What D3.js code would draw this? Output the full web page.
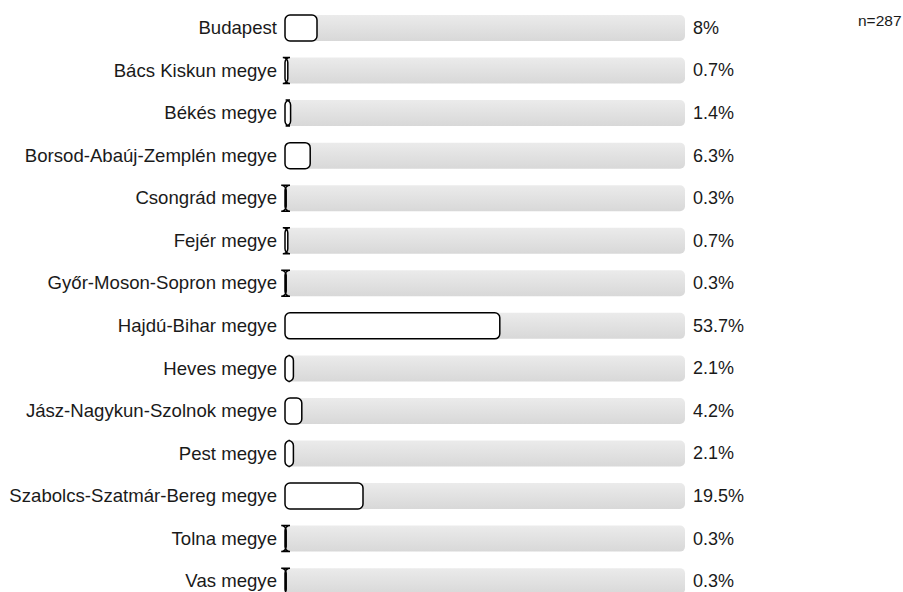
<!DOCTYPE html>
<html><head><meta charset="utf-8">
<script src="https://cdn.jsdelivr.net/npm/d3@7"></script>
<style>body{margin:0;background:#fff}svg{display:block}text{font-family:"Liberation Sans",Arial,sans-serif}</style>
</head><body>
<svg id="c" width="903" height="592"></svg>
<script>
const categories = ["Budapest","Bács Kiskun megye","Békés megye","Borsod-Abaúj-Zemplén megye","Csongrád megye","Fejér megye","Győr-Moson-Sopron megye","Hajdú-Bihar megye","Heves megye","Jász-Nagykun-Szolnok megye","Pest megye","Szabolcs-Szatmár-Bereg megye","Tolna megye","Vas megye"];
const values = [8,0.7,1.4,6.3,0.3,0.7,0.3,53.7,2.1,4.2,2.1,19.5,0.3,0.3];
const valueLabels = ["8%","0.7%","1.4%","6.3%","0.3%","0.7%","0.3%","53.7%","2.1%","4.2%","2.1%","19.5%","0.3%","0.3%"];
const sampleLabel = "n=287";

const svg = d3.select("#c");
const x = d3.scaleLinear().domain([0,100]).range([285,685]);
const step = 42.55;
const y = d3.scalePoint().domain(categories).range([15, 15 + step*(categories.length-1)]);
const bh = 26;

const defs = svg.append("defs");
const g = defs.append("linearGradient").attr("id","tg").attr("x1",0).attr("y1",0).attr("x2",0).attr("y2",1);
g.append("stop").attr("offset","0%").attr("stop-color","#ebebeb");
g.append("stop").attr("offset","100%").attr("stop-color","#d8d8d8");

function rr(x0,y0,w,h,r){
  return `M${x0+r},${y0}H${x0+w-r}A${r},${r} 0 0 1 ${x0+w},${y0+r}V${y0+h-r}A${r},${r} 0 0 1 ${x0+w-r},${y0+h}H${x0+r}A${r},${r} 0 0 1 ${x0},${y0+h-r}V${y0+r}A${r},${r} 0 0 1 ${x0+r},${y0}Z`;
}

const rows = svg.selectAll("g.row").data(categories).join("g").attr("class","row");
rows.append("rect")
  .attr("x", x(0)).attr("y", c => y(c)).attr("width", x(100)-x(0)).attr("height", bh)
  .attr("rx",5).attr("fill","url(#tg)");
rows.append("path")
  .attr("d",(c,i)=> rr(x(0), y(c), x(values[i])-x(0), bh, 5))
  .attr("fill","#fff").attr("stroke","#000").attr("stroke-width",1.5);
rows.append("text")
  .attr("x",277).attr("y",c=>y(c)+bh/2).attr("dy","0.33em")
  .attr("text-anchor","end").attr("font-size",18.6).attr("fill","#1a1a1a")
  .text(c=>c);
rows.append("text")
  .attr("x",693).attr("y",c=>y(c)+bh/2).attr("dy","0.33em")
  .attr("font-size",18).attr("fill","#1a1a1a")
  .text((c,i)=>valueLabels[i]);
svg.append("text").attr("x",858).attr("y",21).attr("dy","0.35em")
  .attr("font-size",15.5).attr("fill","#1a1a1a").text(sampleLabel);
</script>
</body></html>
